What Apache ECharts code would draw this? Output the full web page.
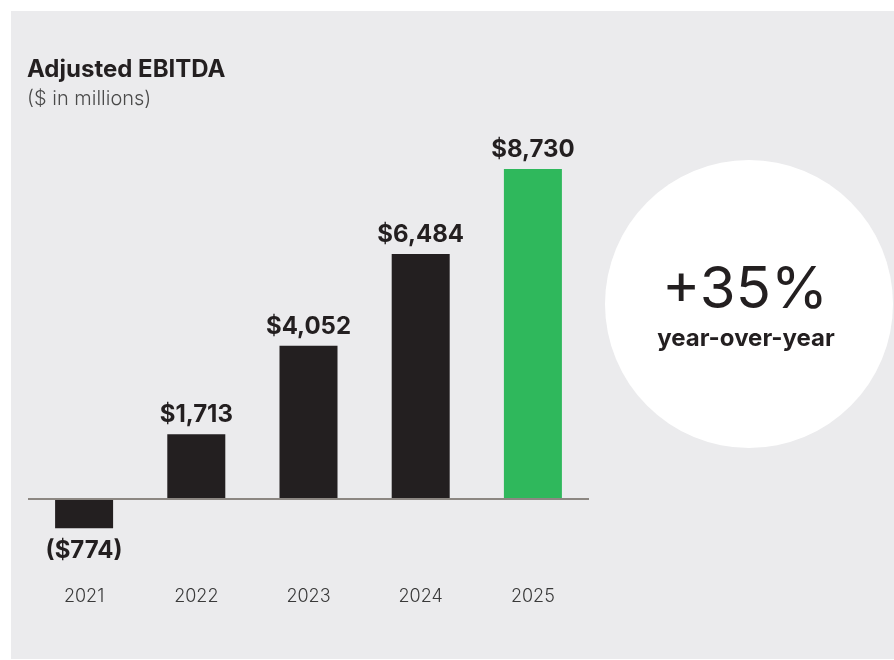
<!DOCTYPE html>
<html>
<head>
<meta charset="utf-8">
<script src="https://cdn.jsdelivr.net/npm/echarts@6/dist/echarts.min.js"></script>
<style>
  html, body { margin: 0; padding: 0; background: #ffffff; }
  #chart { width: 894px; height: 660px; }
</style>
</head>
<body>
<div id="chart"></div>
<script>
// Adjusted EBITDA by fiscal year, $ in millions
const years = ['2021', '2022', '2023', '2024', '2025'];
const ebitda = [-774, 1713, 4052, 6484, 8730];
const barColors = ['#231f20', '#231f20', '#231f20', '#231f20', '#2fb85c'];
const growthText = '+35%';
const growthCaption = 'year-over-year';

const FONT = 'Inter, "Noto Sans", sans-serif';
const INK = '#231f20';

function money(v) {
  const s = '$' + Math.abs(v).toLocaleString('en-US');
  return v < 0 ? '(' + s + ')' : s;
}

const chart = echarts.init(document.getElementById('chart'), null, { renderer: 'canvas' });

const barData = ebitda.map((v, i) => ({
  value: v,
  itemStyle: { color: barColors[i] },
  label: v < 0 ? { position: 'bottom', distance: 11 } : { position: 'top' }
}));

chart.setOption({
  backgroundColor: '#ffffff',
  animation: false,
  graphic: [
    { type: 'rect', z: -10, silent: true,
      shape: { x: 11, y: 11, width: 883, height: 648 },
      style: { fill: '#ebebed' } },
    { type: 'circle', z: -5, silent: true,
      shape: { cx: 749, cy: 304, r: 144 },
      style: { fill: '#ffffff' } },
    { type: 'text', left: 27, top: 58,
      style: { text: 'Adjusted EBITDA', fill: INK, font: '700 24px ' + FONT } },
    { type: 'text', left: 27, top: 89,
      style: { text: '($ in millions)', fill: '#4a4a4a', font: '300 20px ' + FONT } },
    { type: 'text', x: 745, y: 291,
      style: { text: growthText, fill: INK, font: '400 58px ' + FONT,
               textAlign: 'center', textVerticalAlign: 'middle' } },
    { type: 'text', x: 746, y: 339,
      style: { text: growthCaption, fill: INK, font: '700 24px ' + FONT,
               textAlign: 'center', textVerticalAlign: 'middle' } }
  ],
  grid: { left: 28, right: 305, top: 121, bottom: 85.4 },
  xAxis: {
    type: 'category',
    data: years,
    axisLine: { show: false, onZero: false },
    axisTick: { show: false },
    axisLabel: { color: '#3a3a3a', fontFamily: FONT, fontSize: 18, fontWeight: 300, margin: 13 }
  },
  yAxis: {
    type: 'value',
    min: -2000,
    max: 10000,
    show: false,
    splitLine: { show: false }
  },
  series: [{
    type: 'bar',
    data: barData,
    barWidth: 58,
    label: {
      show: true,
      distance: 7,
      color: INK,
      fontFamily: FONT,
      fontSize: 24,
      fontWeight: 700,
      formatter: p => money(p.value)
    },
    markLine: {
      silent: true,
      symbol: 'none',
      label: { show: false },
      lineStyle: { color: '#8c8782', width: 2, type: 'solid' },
      data: [{ yAxis: 0 }]
    }
  }]
});
</script>
</body>
</html>
